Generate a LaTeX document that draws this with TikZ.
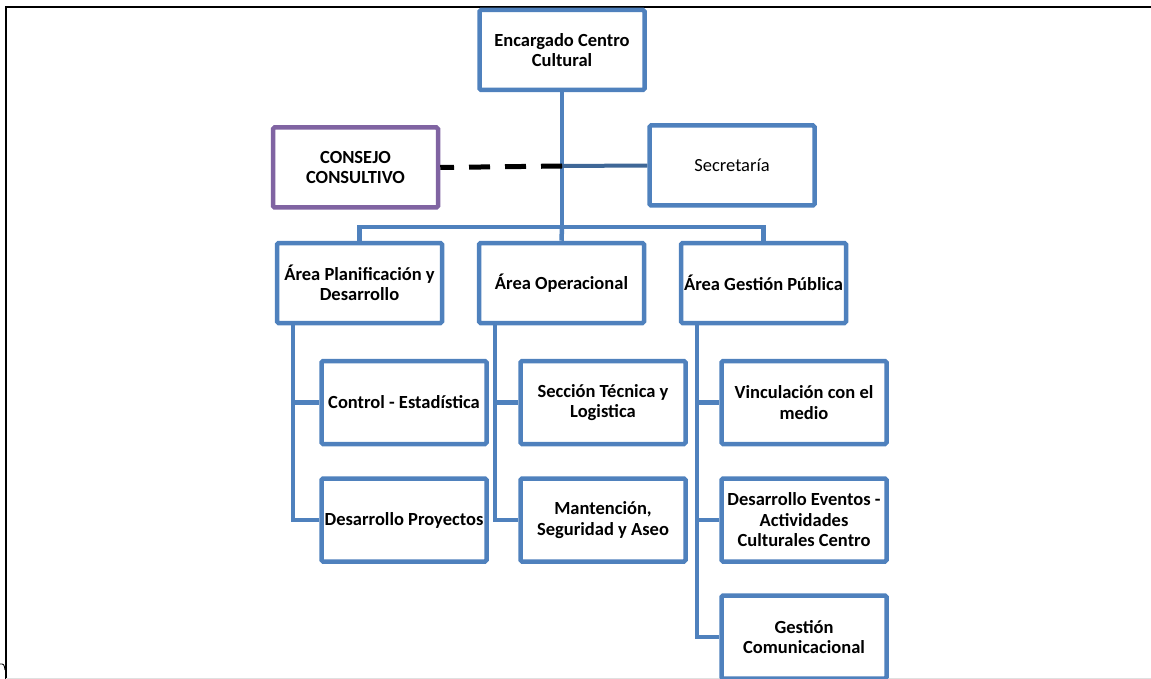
\documentclass[tikz,border=0pt]{standalone}
\usepackage{fontspec}
\setmainfont{Carlito}
\definecolor{boxblue}{HTML}{4F81BD}
\definecolor{darkblue}{HTML}{3F6797}
\definecolor{consejo}{HTML}{8064A2}
\tikzset{
  orgbox/.style={draw=boxblue, line width=4.5pt, fill=white, rounded corners=1.5pt,
    minimum width=165pt, minimum height=80pt, inner sep=2pt, align=center,
    font=\fontsize{18.5}{20.5}\selectfont\bfseries},
  purplebox/.style={orgbox, draw=consejo},
  plainbox/.style={orgbox, font=\fontsize{18.5}{20.5}\selectfont},
  link/.style={draw=boxblue, line width=4.5pt},
  seclink/.style={draw=darkblue, line width=4pt},
  dashlink/.style={draw=black, line width=5pt, dash pattern=on 21pt off 15pt},
  frame/.style={draw=black, line width=2.2pt}
}
\begin{document}
\begin{tikzpicture}[x=1pt,y=-1pt]
\useasboundingbox (0,0) rectangle (1151,679);
% outer frame
\coordinate (f1) at (6,679);
\coordinate (f2) at (6,7);
\coordinate (f3) at (1151,7);
\coordinate (b1) at (6,678);
\coordinate (b2) at (1151,678);
\draw[frame] (f1) -- (f2) -- (f3);
\draw[draw=black!12, line width=1pt] (b1) -- (b2);
\coordinate (c0) at (0,664);
\coordinate (c1) at (5,670);
\draw[line width=0.8pt] (c0) .. controls (4,664) .. (c1);

% nodes
\node[orgbox] (top) at (562,50) {Encargado Centro\\Cultural};
\node[purplebox] (cons) at (355.5,167.5) {CONSEJO\\CONSULTIVO};
\node[plainbox] (sec) at (732,165.5) {Secretaría};

\coordinate (j) at (562,166);
\coordinate (bar) at (562,227);

\node[orgbox] (pl) at (359.5,283) {Área Planificación y\\Desarrollo};
\node[orgbox] (op) at (561.5,283) {Área Operacional};
\node[orgbox] (gp) at (763.5,283) {Área Gestión Pública};

\node[orgbox, minimum height=83pt] (ce) at (404,402.5) {Control - Estadística};
\node[orgbox, minimum height=83pt] (st) at (603,402.5) {Sección Técnica y\\Logistica};
\node[orgbox, minimum height=83pt] (vm) at (804,402.5) {Vinculación con el\\medio};

\node[orgbox, minimum height=83pt] (dp) at (404,520) {Desarrollo Proyectos};
\node[orgbox, minimum height=83pt] (ms) at (603,520) {Mantención,\\Seguridad y Aseo};
\node[orgbox, minimum height=83pt] (de) at (804,520) {Desarrollo Eventos -\\Actividades\\Culturales Centro};

\node[orgbox, minimum height=83pt] (gc) at (804,637) {Gestión\\Comunicacional};

% connectors
\draw[link] (top.south) -- (bar);
\draw[link] (pl.north) |- (bar) -| (gp.north);
\draw[link] (bar) -- (op.north);
\draw[seclink] (j) -- (sec.west);
\draw[dashlink] (j) -- (cons.east);

\coordinate (plv) at ([xshift=18pt]pl.south west);
\coordinate (opv) at ([xshift=18pt]op.south west);
\coordinate (gpv) at ([xshift=18pt]gp.south west);
\draw[link] (plv) |- (ce.west);
\draw[link] (plv) |- (dp.west);
\draw[link] (opv) |- (st.west);
\draw[link] (opv) |- (ms.west);
\draw[link] (gpv) |- (vm.west);
\draw[link] (gpv) |- (de.west);
\draw[link] (gpv) |- (gc.west);
\end{tikzpicture}
\end{document}
